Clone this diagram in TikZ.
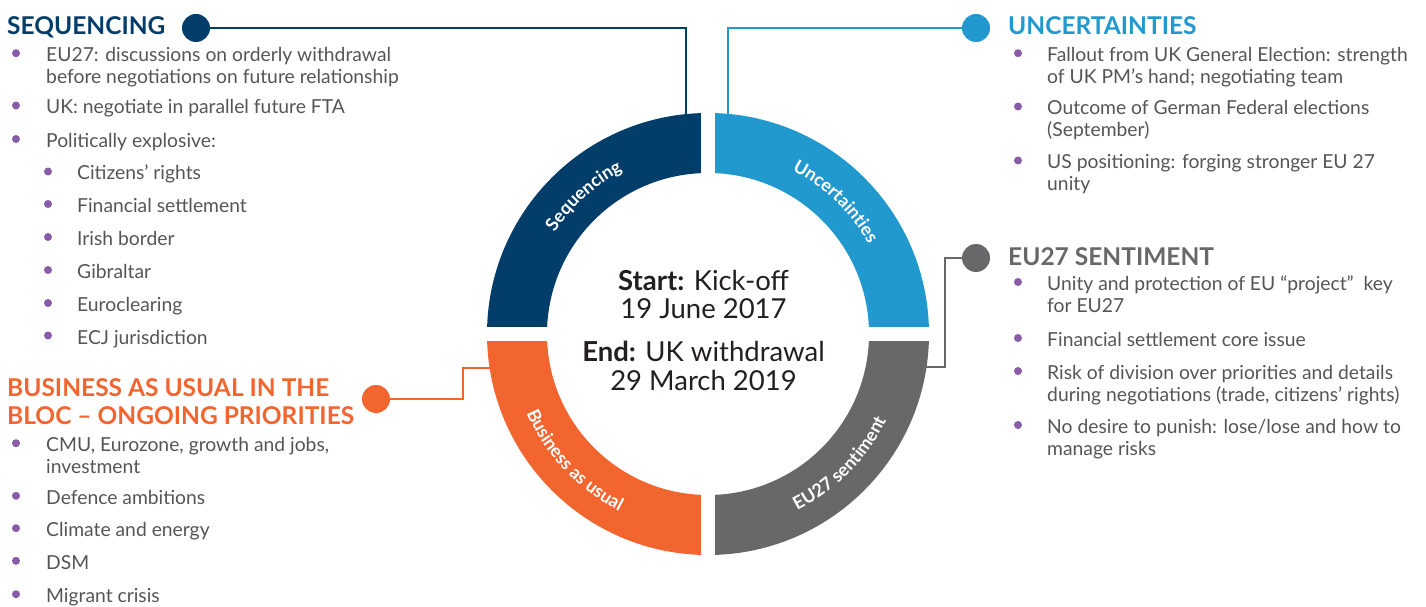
\documentclass[tikz,border=0pt]{standalone}
\usepackage{fontspec}
\setmainfont{Lato}
\usetikzlibrary{positioning, decorations.text}

\definecolor{seqblue}{RGB}{3,62,107}
\definecolor{uncblue}{RGB}{33,152,206}
\definecolor{sentgrey}{RGB}{104,104,106}
\definecolor{busorange}{RGB}{242,101,47}
\definecolor{dotpurple}{RGB}{137,92,170}
\definecolor{bodygrey}{RGB}{85,85,87}
\definecolor{centredark}{RGB}{35,31,32}

\newcommand{\bodyfont}{\fontsize{19.3}{21.5}\selectfont}
\newcommand{\headfont}{\fontsize{24.5}{27.3}\selectfont\bfseries}
\newcommand{\ringfont}{\fontsize{18}{18}\selectfont\bfseries}

\tikzstyle{itemNode} = [inner sep=0, anchor=base west, align=left, text=bodygrey, font=\bodyfont]
\tikzstyle{twoLine} = [yshift=-21.5pt]
\tikzstyle{headNode} = [inner sep=0, anchor=base west, align=left, font=\headfont]
\tikzstyle{bulletDot} = [circle, fill=dotpurple, inner sep=0, minimum size=8pt]
\tikzstyle{linkDot} = [circle, inner sep=0, minimum size=28pt]
\tikzstyle{link} = [line width=2.8pt]
\tikzstyle{centreNode} = [inner sep=0, anchor=base, align=center, text=centredark, font=\fontsize{27.5}{28.7}\selectfont]

\begin{document}
\begin{tikzpicture}[x=1pt, y=1pt]
    \useasboundingbox (0,0) rectangle (1426,606);

    % headings and their dots
    \node (seqhead) [headNode, text=seqblue] at (7,571) {SEQUENCING};
    \node (unchead) [headNode, text=uncblue] at (1008,571) {UNCERTAINTIES};
    \node (euhead) [headNode, text=sentgrey] at (1008,341) {EU27 SENTIMENT};
    \node (bushead) [headNode, text=busorange, yshift=-27.3pt] at (7,209.3) {BUSINESS AS USUAL IN THE\\BLOC -- ONGOING PRIORITIES};

    \node (seqdot) [linkDot, fill=seqblue] at (196,578) {};
    \node (uncdot) [linkDot, fill=uncblue] at (976,578) {};
    \node (eudot) [linkDot, fill=sentgrey] at (976,348) {};
    \node (busdot) [linkDot, fill=busorange] at (376,207) {};

    \coordinate (seqend) at (686,488);
    \coordinate (uncend) at (728,488);
    \coordinate (eubend) at (945,239);
    \coordinate (euend) at (922,239);
    \coordinate (busbend) at (463,238);
    \coordinate (busend) at (494,238);

    \draw [link, seqblue] (seqdot) -| (seqend);
    \draw [link, uncblue] (uncdot) -| (uncend);
    \draw [link, sentgrey] (eudot) -| (eubend) -- (euend);
    \draw [link, busorange] (busdot) -| (busbend) -- (busend);

    % the ring
    \begin{scope}[shift={(708,272)}]
        \fill [seqblue] (90:221) arc[start angle=90, end angle=180, radius=221]
            -- (180:161) arc[start angle=180, end angle=90, radius=161] -- cycle;
        \fill [uncblue] (0:221) arc[start angle=0, end angle=90, radius=221]
            -- (90:161) arc[start angle=90, end angle=0, radius=161] -- cycle;
        \fill [sentgrey] (270:221) arc[start angle=270, end angle=360, radius=221]
            -- (0:161) arc[start angle=360, end angle=270, radius=161] -- cycle;
        \fill [busorange] (180:221) arc[start angle=180, end angle=270, radius=221]
            -- (270:161) arc[start angle=270, end angle=180, radius=161] -- cycle;
        \draw [white, line width=14pt] (-226,0) -- (226,0) (0,-226) -- (0,226);

        \path [decorate, decoration={text along path, text align=center, text color=white,
            text={|\ringfont|Sequencing}}] (172:184) arc[start angle=172, end angle=92, radius=184];
        \path [decorate, decoration={text along path, text align=center, text color=white,
            text={|\ringfont|Uncertainties}}] (86:184) arc[start angle=86, end angle=6, radius=184];
        \path [decorate, decoration={text along path, text align=center, text color=white,
            text={|\ringfont|Business as usual}}] (183:198) arc[start angle=183, end angle=264, radius=198];
        \path [decorate, decoration={text along path, text align=center, text color=white,
            text={|\ringfont|EU27 sentiment}}] (275:198) arc[start angle=275, end angle=356, radius=198];
    \end{scope}

    \node (startnode) [centreNode] at (703.5,287.3) {\textbf{Start:} Kick-off\\19 June 2017};
    \node (endnode) [centreNode] at (703.5,215.6) {\textbf{End:} UK withdrawal\\29 March 2019};

    % sequencing list
    \node (s1) [itemNode, twoLine] at (46,544.3) {EU27: discussions on orderly withdrawal\\before negotiations on future relationship};
    \node (s2) [itemNode] at (46,492) {UK: negotiate in parallel future FTA};
    \node (s3) [itemNode] at (46,458.5) {Politically explosive:};
    \node (s4) [itemNode] at (77,426) {Citizens’ rights};
    \node (s5) [itemNode] at (77,393.5) {Financial settlement};
    \node (s6) [itemNode] at (77,360.5) {Irish border};
    \node (s7) [itemNode] at (77,327.5) {Gibraltar};
    \node (s8) [itemNode] at (77,294.5) {Euroclearing};
    \node (s9) [itemNode] at (77,262) {ECJ jurisdiction};

    % business as usual list
    \node (b1) [itemNode, twoLine] at (46,154.3) {CMU, Eurozone, growth and jobs,\\investment};
    \node (b2) [itemNode] at (46,101.7) {Defence ambitions};
    \node (b3) [itemNode] at (46,69.3) {Climate and energy};
    \node (b4) [itemNode] at (46,36.7) {DSM};
    \node (b5) [itemNode] at (46,3.3) {Migrant crisis};

    % uncertainties list
    \node (u1) [itemNode, twoLine] at (1047,544.3) {Fallout from UK General Election: strength\\of UK PM’s hand; negotiating team};
    \node (u2) [itemNode, twoLine] at (1047,491) {Outcome of German Federal elections\\(September)};
    \node (u3) [itemNode, twoLine] at (1047,437) {US positioning: forging stronger EU 27\\unity};

    % sentiment list
    \node (e1) [itemNode, twoLine] at (1047,315.5) {Unity and protection of EU “project”\ \ key\\for EU27};
    \node (e2) [itemNode] at (1047,259.5) {Financial settlement core issue};
    \node (e3) [itemNode, twoLine] at (1047,226.5) {Risk of division over priorities and details\\during negotiations (trade, citizens’ rights)};
    \node (e4) [itemNode, twoLine] at (1047,172.5) {No desire to punish: lose/lose and how to\\manage risks};

    % bullets (two-line items sit one line lower)
    \node (s1b) [bulletDot] at ([xshift=-30pt, yshift=30pt]s1.base west) {};
    \node (s2b) [bulletDot] at ([xshift=-30pt, yshift=8.5pt]s2.base west) {};
    \node (s3b) [bulletDot] at ([xshift=-30pt, yshift=8.5pt]s3.base west) {};
    \node (s4b) [bulletDot] at ([xshift=-29pt, yshift=8.5pt]s4.base west) {};
    \node (s5b) [bulletDot] at ([xshift=-29pt, yshift=8.5pt]s5.base west) {};
    \node (s6b) [bulletDot] at ([xshift=-29pt, yshift=8.5pt]s6.base west) {};
    \node (s7b) [bulletDot] at ([xshift=-29pt, yshift=8.5pt]s7.base west) {};
    \node (s8b) [bulletDot] at ([xshift=-29pt, yshift=8.5pt]s8.base west) {};
    \node (s9b) [bulletDot] at ([xshift=-29pt, yshift=8.5pt]s9.base west) {};
    \node (b1b) [bulletDot] at ([xshift=-30pt, yshift=30pt]b1.base west) {};
    \node (b2b) [bulletDot] at ([xshift=-30pt, yshift=8.5pt]b2.base west) {};
    \node (b3b) [bulletDot] at ([xshift=-30pt, yshift=8.5pt]b3.base west) {};
    \node (b4b) [bulletDot] at ([xshift=-30pt, yshift=8.5pt]b4.base west) {};
    \node (b5b) [bulletDot] at ([xshift=-30pt, yshift=8.5pt]b5.base west) {};
    \node (u1b) [bulletDot] at ([xshift=-29pt, yshift=30pt]u1.base west) {};
    \node (u2b) [bulletDot] at ([xshift=-29pt, yshift=30pt]u2.base west) {};
    \node (u3b) [bulletDot] at ([xshift=-29pt, yshift=30pt]u3.base west) {};
    \node (e1b) [bulletDot] at ([xshift=-29pt, yshift=30pt]e1.base west) {};
    \node (e2b) [bulletDot] at ([xshift=-29pt, yshift=8.5pt]e2.base west) {};
    \node (e3b) [bulletDot] at ([xshift=-29pt, yshift=30pt]e3.base west) {};
    \node (e4b) [bulletDot] at ([xshift=-29pt, yshift=30pt]e4.base west) {};

\end{tikzpicture}
\end{document}
